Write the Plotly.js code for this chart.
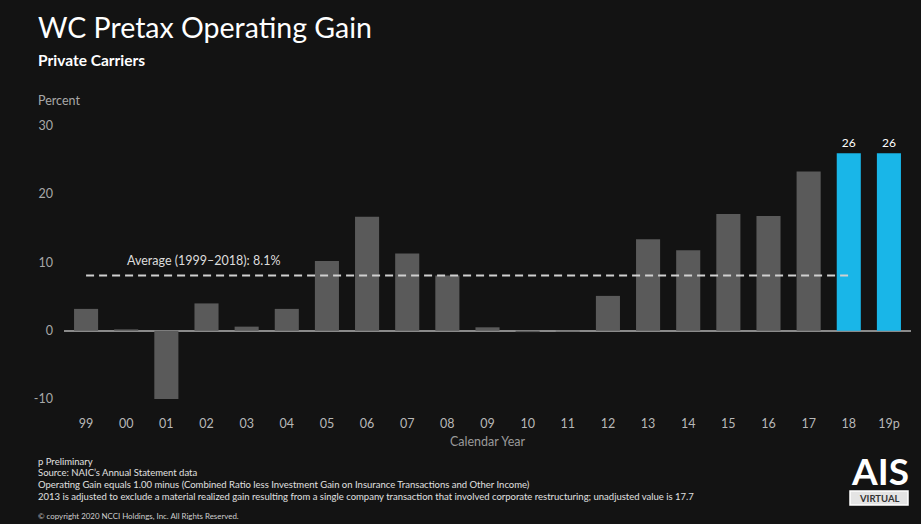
<!DOCTYPE html>
<html>
<head>
<meta charset="utf-8">
<script src="https://cdn.plot.ly/plotly-3.0.1.min.js"></script>
<style>html,body{margin:0;padding:0;background:#131313;}#chart{width:921px;height:524px;}</style>
</head>
<body>
<div id="chart"></div>
<script>
// ---- data ----
const years = ['99','00','01','02','03','04','05','06','07','08','09','10','11','12','13','14','15','16','17','18','19p'];
const gain = [3.2, 0.2, -10.0, 4.0, 0.6, 3.2, 10.2, 16.7, 11.3, 8.1, 0.5, -0.2, -0.1, 5.1, 13.4, 11.8, 17.1, 16.8, 23.3, 26, 26];
const highlighted = ['18','19p'];
const avgValue = 8.1;
const avgRange = ['99','18'];
const avgLabel = 'Average (1999–2018): 8.1%';
const yTicks = [-10, 0, 10, 20, 30];
const footnotes = [
  'p Preliminary',
  'Source: NAIC\u2019s Annual Statement data',
  'Operating Gain equals 1.00 minus (Combined Ratio less Investment Gain on Insurance Transactions and Other Income)',
  '2013 is adjusted to exclude a material realized gain resulting from a single company transaction that involved corporate restructuring; unadjusted value is 17.7'
];
const copyright = '\u00A9 copyright 2020 NCCI Holdings, Inc. All Rights Reserved.';

// ---- layout helpers ----
const W = 921, H = 524, L = 64, R = 10, T = 120, B = 113;
const px = x => (x - L) / (W - L - R);
const py = y => (H - B - y) / (H - T - B);
const FONT = 'Lato, "Open Sans", sans-serif';
const GREY = '#5a5a5a', BLUE = '#19b6e8';

const barColors = years.map(y => highlighted.includes(y) ? BLUE : GREY);
const barText = years.map((y, i) => highlighted.includes(y) ? String(gain[i]) : '');

const traces = [
  {
    type: 'bar', x: years, y: gain,
    marker: {color: barColors},
    text: barText, textposition: 'outside', cliponaxis: false,
    textfont: {color: '#ffffff', size: 12, family: FONT},
    hoverinfo: 'x+y'
  },
  {
    type: 'scatter', mode: 'lines', x: avgRange, y: [avgValue, avgValue],
    line: {color: '#d0d0d0', width: 2, dash: '8px,5px'},
    hoverinfo: 'skip'
  }
];

const ann = [];
ann.push({xref:'paper', yref:'paper', x: px(36), y: py(27), xanchor:'left', yanchor:'middle', showarrow:false,
  text:'WC Pretax Operating Gain', font:{family:FONT, size:28.5, color:'#ffffff'}});
ann.push({xref:'paper', yref:'paper', x: px(36), y: py(60), xanchor:'left', yanchor:'middle', showarrow:false,
  text:'<b>Private Carriers</b>', font:{family:FONT, size:15.5, color:'#ffffff'}});
ann.push({xref:'paper', yref:'paper', x: px(36), y: py(100), xanchor:'left', yanchor:'middle', showarrow:false,
  text:'Percent', font:{family:FONT, size:12.5, color:'#a8a8a8'}});
ann.push({xref:'x', yref:'y', x: years.indexOf('02') - 0.08, y: avgValue, yanchor:'bottom', xanchor:'center', yshift: 5, showarrow:false,
  text: avgLabel, font:{family:FONT, size:12.5, color:'#dddddd'}});
const fnY = [461, 472, 484, 496];
footnotes.forEach((t, i) => ann.push({xref:'paper', yref:'paper', x: px(36), y: py(fnY[i]), xanchor:'left', yanchor:'middle',
  showarrow:false, text:t, font:{family:FONT, size:9.5, color:'#e0e0e0'}}));
ann.push({xref:'paper', yref:'paper', x: px(36), y: py(516), xanchor:'left', yanchor:'middle', showarrow:false,
  text: copyright, font:{family:FONT, size:7.9, color:'#cfcfcf'}});
ann.push({xref:'paper', yref:'paper', x: px(880), y: py(470), xanchor:'center', yanchor:'middle', showarrow:false,
  text:'<b>AIS</b>', font:{family:FONT, size:37, color:'#ffffff'}});
ann.push({xref:'paper', yref:'paper', x: px(879), y: py(498.5), xanchor:'center', yanchor:'middle', showarrow:false,
  text:'<b>VIRTUAL</b>', font:{family:FONT, size:9.5, color:'#333333'}});

const layout = {
  width: W, height: H,
  paper_bgcolor: '#131313', plot_bgcolor: '#131313',
  margin: {l: L, r: R, t: T, b: B, pad: 0},
  showlegend: false,
  bargap: 0.40,
  font: {family: FONT, color: '#bbbbbb'},
  xaxis: {
    type: 'category', range: [-0.55, 20.55], showgrid: false, zeroline: false, showline: false,
    ticks: '', ticklabelstandoff: 3, tickfont: {size: 12.5, color: '#b8b8b8'},
    title: {text: 'Calendar Year', font: {size: 12.5, color: '#9a9a9a'}, standoff: 7},
    fixedrange: true
  },
  yaxis: {
    range: [-11.75, 30.85], tickvals: yTicks, ticktext: yTicks.map(String),
    showgrid: false, zeroline: true, zerolinecolor: '#8a8a8a', zerolinewidth: 2,
    showline: false, ticks: '', ticklabelstandoff: 10,
    tickfont: {size: 12.5, color: '#a8a8a8'}, fixedrange: true
  },
  annotations: ann,
  shapes: [
    {type:'rect', xref:'paper', yref:'paper', x0: px(850), x1: px(908), y0: py(505), y1: py(491),
     fillcolor:'#e4e4e4', line:{color:'#ffffff', width:1.5}, layer:'below'}
  ]
};

Plotly.newPlot('chart', traces, layout, {displayModeBar: false, staticPlot: true});
</script>
</body>
</html>
